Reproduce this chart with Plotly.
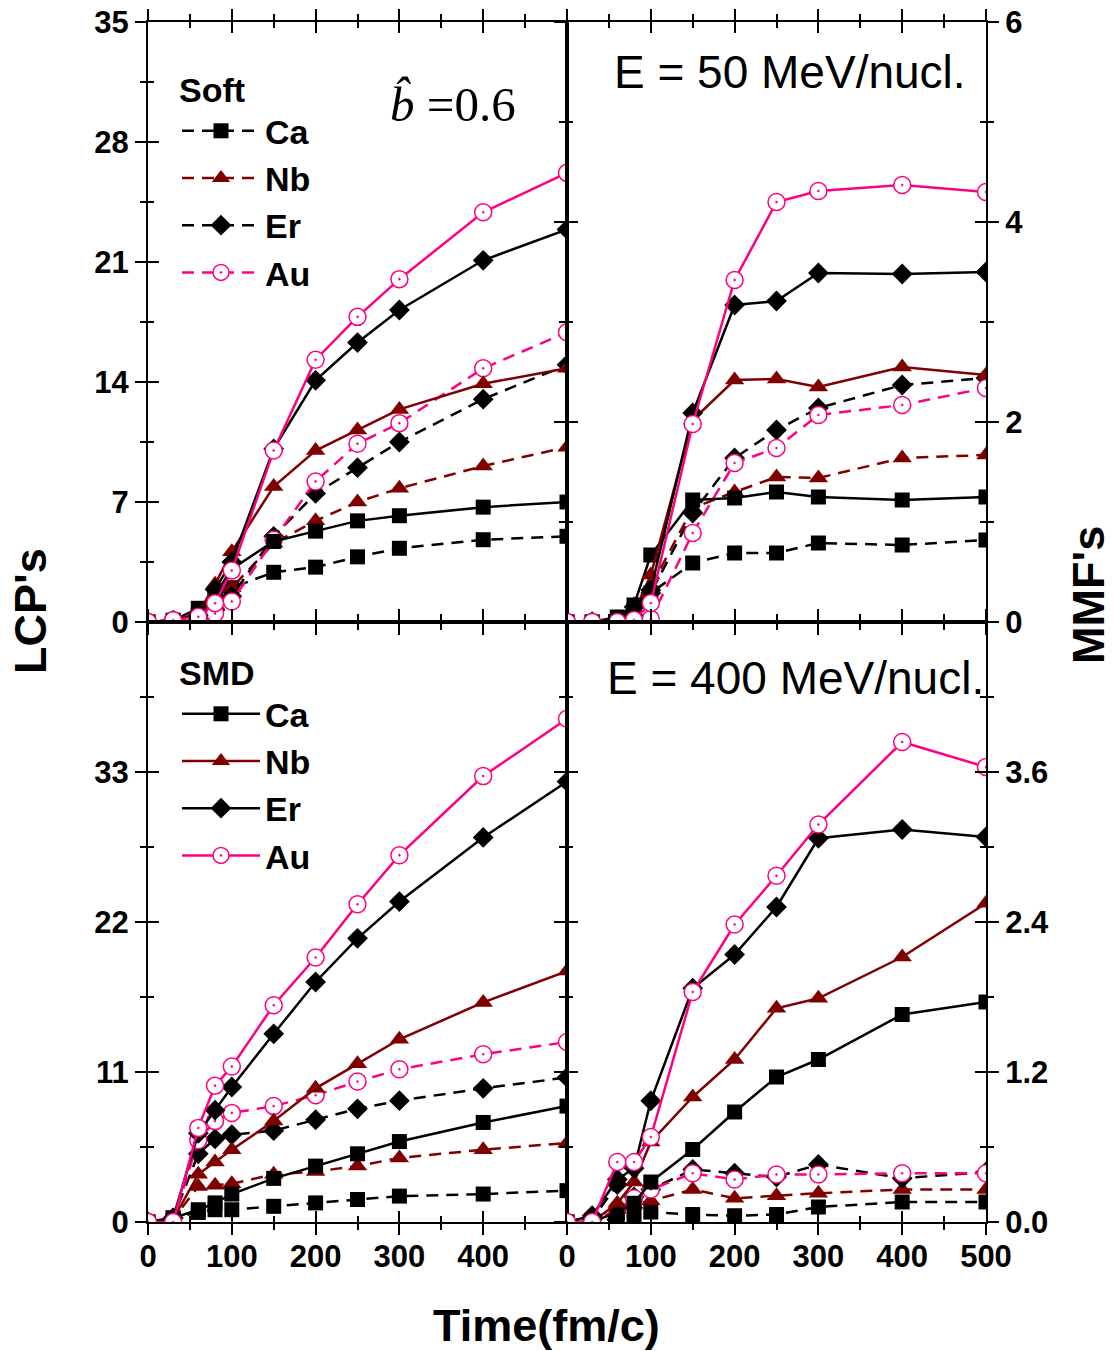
import plotly.graph_objects as go

# ---------------- data ----------------
time_fm_c = [0, 30, 60, 80, 100, 150, 200, 250, 300, 400, 500]
elements = ["Ca", "Nb", "Er", "Au"]

# LCP's, E = 50 MeV/nucl. (top-left)
lcp50_smd_ca = [0, 0.1, 0.8, 1.6, 3.1, 4.7, 5.3, 5.9, 6.2, 6.7, 7.0]
lcp50_smd_nb = [0, 0.1, 0.5, 2.2, 4.1, 7.9, 10.0, 11.2, 12.4, 13.9, 14.8]
lcp50_smd_er = [0, 0.1, 0.4, 1.9, 3.5, 10.1, 14.1, 16.3, 18.2, 21.1, 22.9]
lcp50_smd_au = [0, 0.1, 0.3, 1.1, 3.0, 10.0, 15.3, 17.8, 20.0, 23.9, 26.2]
lcp50_soft_ca = [0, 0.1, 0.4, 1.5, 2.0, 2.9, 3.2, 3.8, 4.3, 4.8, 5.0]
lcp50_soft_nb = [0, 0.1, 0.3, 1.0, 2.0, 4.6, 5.9, 7.0, 7.8, 9.1, 10.2]
lcp50_soft_er = [0, 0.1, 0.2, 0.7, 1.5, 5.0, 7.5, 9.0, 10.5, 13.0, 15.0]
lcp50_soft_au = [0, 0.1, 0.2, 0.5, 1.2, 4.8, 8.2, 10.4, 11.6, 14.8, 16.9]

# MMF's, E = 50 MeV/nucl. (top-right)
mmf50_smd_ca = [0, 0, 0.05, 0.17, 0.67, 1.22, 1.24, 1.30, 1.25, 1.22, 1.25]
mmf50_smd_nb = [0, 0, 0.03, 0.10, 0.47, 2.02, 2.42, 2.43, 2.35, 2.55, 2.47]
mmf50_smd_er = [0, 0, 0.02, 0.15, 0.32, 2.09, 3.17, 3.21, 3.49, 3.48, 3.50]
mmf50_smd_au = [0, 0, 0, 0.02, 0.19, 1.98, 3.42, 4.20, 4.31, 4.37, 4.30]
mmf50_soft_ca = [0, 0, 0.02, 0.12, 0.29, 0.59, 0.69, 0.69, 0.79, 0.77, 0.82]
mmf50_soft_nb = [0, 0, 0.02, 0.10, 0.35, 1.14, 1.30, 1.45, 1.44, 1.64, 1.67]
mmf50_soft_er = [0, 0, 0.01, 0.05, 0.29, 1.09, 1.64, 1.92, 2.14, 2.37, 2.44]
mmf50_soft_au = [0, 0, 0, 0, 0.03, 0.89, 1.59, 1.74, 2.07, 2.17, 2.34]

# LCP's, E = 400 MeV/nucl. (bottom-left)
lcp400_smd_ca = [0, 0.3, 0.9, 1.4, 2.05, 3.2, 4.1, 5.0, 5.9, 7.3, 8.5]
lcp400_smd_nb = [0, 0.2, 3.5, 4.4, 5.3, 7.4, 9.8, 11.6, 13.4, 16.1, 18.4]
lcp400_smd_er = [0, 0.3, 6.5, 8.2, 9.9, 13.8, 17.6, 20.8, 23.5, 28.2, 32.3]
lcp400_smd_au = [0, 0, 6.9, 10.0, 11.4, 15.9, 19.4, 23.3, 26.9, 32.7, 36.9]
lcp400_soft_ca = [0, 0.3, 0.7, 0.9, 0.9, 1.15, 1.4, 1.65, 1.9, 2.05, 2.3]
lcp400_soft_nb = [0, 0.2, 2.6, 2.7, 2.8, 3.5, 3.7, 4.1, 4.7, 5.3, 5.8]
lcp400_soft_er = [0, 0.3, 5.0, 6.1, 6.4, 6.7, 7.5, 8.3, 8.9, 9.8, 10.6]
lcp400_soft_au = [0, 0, 6.0, 7.4, 8.0, 8.5, 9.3, 10.3, 11.2, 12.3, 13.2]

# MMF's, E = 400 MeV/nucl. (bottom-right)
mmf400_smd_ca = [0, 0, 0.08, 0.15, 0.32, 0.58, 0.88, 1.16, 1.30, 1.66, 1.76]
mmf400_smd_nb = [0, 0, 0.15, 0.32, 0.64, 1.00, 1.30, 1.71, 1.79, 2.12, 2.55]
mmf400_smd_er = [0, 0.05, 0.34, 0.43, 0.97, 1.87, 2.14, 2.52, 3.07, 3.14, 3.08]
mmf400_smd_au = [0, 0, 0.48, 0.48, 0.68, 1.84, 2.38, 2.77, 3.18, 3.84, 3.64]
mmf400_soft_ca = [0, 0, 0.03, 0.05, 0.08, 0.06, 0.05, 0.06, 0.12, 0.16, 0.16]
mmf400_soft_nb = [0, 0, 0.10, 0.14, 0.17, 0.26, 0.19, 0.21, 0.23, 0.26, 0.26]
mmf400_soft_er = [0, 0.02, 0.30, 0.20, 0.26, 0.42, 0.39, 0.36, 0.46, 0.35, 0.40]
mmf400_soft_au = [0, 0, 0.10, 0.19, 0.26, 0.39, 0.34, 0.38, 0.38, 0.39, 0.39]

x_ticks = [0, 100, 200, 300, 400, 500]
lcp50_ticks = [0, 7, 14, 21, 28, 35]
lcp400_ticks = [0, 11, 22, 33, 44]
mmf50_ticks = [0, 2, 4, 6]
mmf400_ticks = [0, 1.2, 2.4, 3.6, 4.8]

# ---------------- style ----------------
W, H = 1113, 1351
FONT = "Liberation Sans, Arial, sans-serif"
PINK = "#FF0080"
DRED = "#800000"
colors = {"Ca": "black", "Nb": DRED, "Er": "black", "Au": PINK}
symbols = {"Ca": "square", "Nb": "triangle-up", "Er": "diamond", "Au": "circle-dot"}
sizes = {"Ca": 15, "Nb": 17, "Er": 16, "Au": 17}

panels = [
    ("", {"soft": [lcp50_soft_ca, lcp50_soft_nb, lcp50_soft_er, lcp50_soft_au],
          "smd": [lcp50_smd_ca, lcp50_smd_nb, lcp50_smd_er, lcp50_smd_au]}, "soft"),
    ("2", {"soft": [mmf50_soft_ca, mmf50_soft_nb, mmf50_soft_er, mmf50_soft_au],
           "smd": [mmf50_smd_ca, mmf50_smd_nb, mmf50_smd_er, mmf50_smd_au]}, None),
    ("3", {"soft": [lcp400_soft_ca, lcp400_soft_nb, lcp400_soft_er, lcp400_soft_au],
           "smd": [lcp400_smd_ca, lcp400_smd_nb, lcp400_smd_er, lcp400_smd_au]}, "smd"),
    ("4", {"soft": [mmf400_soft_ca, mmf400_soft_nb, mmf400_soft_er, mmf400_soft_au],
           "smd": [mmf400_smd_ca, mmf400_smd_nb, mmf400_smd_er, mmf400_smd_au]}, None),
]

fig = go.Figure()

for suffix, series, legmodel in panels:
    for model in ["soft", "smd"]:
        for el, vals in zip(elements, series[model]):
            if el == "Au":
                marker = dict(symbol=symbols[el], size=sizes[el], color="white",
                              line=dict(color=PINK, width=1.5))
            else:
                marker = dict(symbol=symbols[el], size=sizes[el], color=colors[el],
                              line=dict(width=0))
            show = legmodel == model
            fig.add_trace(go.Scatter(
                x=time_fm_c, y=vals, mode="lines+markers",
                name=el,
                line=dict(color=colors[el], width=2.5,
                          dash="12px,8px" if model == "soft" else "solid"),
                marker=marker,
                xaxis="x" + suffix, yaxis="y" + suffix,
                showlegend=show,
                legend="legend" if model == "soft" else "legend2",
                legendgroup=model + el,
                hoverinfo="skip",
            ))

# dummy traces for overlay axes (crossing ticks)
for i in range(5, 9):
    fig.add_trace(go.Scatter(x=[], y=[], xaxis="x%d" % i, yaxis="y%d" % i,
                             showlegend=False, hoverinfo="skip"))

xL = [148 / W, 567 / W]
xR = [567 / W, 986 / W]
yT = [1 - 622 / H, 1 - 22 / H]
yB = [1 - 1222 / H, 1 - 622 / H]

tickfont = dict(family=FONT, size=31, color="black", weight="bold")

def base_axis(**kw):
    d = dict(showgrid=False, zeroline=False, showline=True, linecolor="black",
             linewidth=2, ticks="outside", ticklen=11, tickwidth=2, tickcolor="black",
             tickfont=tickfont, fixedrange=True, automargin=False)
    d.update(kw)
    return d

def overlay_axis(base, **kw):
    d = dict(overlaying=base, showgrid=False, zeroline=False, showline=False,
             ticks="inside", ticklen=11, tickwidth=2, tickcolor="black",
             showticklabels=False, fixedrange=True, automargin=False)
    d.update(kw)
    return d

xminor_out = dict(dtick=50, tick0=0, ticks="outside", ticklen=6, tickwidth=2, tickcolor="black")
xminor_in = dict(dtick=50, tick0=0, ticks="inside", ticklen=6, tickwidth=2, tickcolor="black")

def yminor(dt, side):
    return dict(dtick=dt, tick0=0, ticks=side, ticklen=6, tickwidth=2, tickcolor="black")

legend_font = dict(family=FONT, size=34, color="black", weight="bold")

layout = dict(
    template="none",
    width=W, height=H, autosize=False,
    margin=dict(l=0, r=0, t=0, b=0, pad=0, autoexpand=False),
    paper_bgcolor="white", plot_bgcolor="rgba(0,0,0,0)",
    font=dict(family=FONT, color="black"),
    xaxis=base_axis(domain=xL, anchor="y", range=[0, 500], tickvals=x_ticks,
                    showticklabels=False, mirror="ticks", minor=xminor_out),
    yaxis=base_axis(domain=yT, anchor="x", range=[0, 35], tickvals=lcp50_ticks,
                    ticktext=[str(v) for v in lcp50_ticks], mirror=True,
                    minor=yminor(3.5, "outside")),
    xaxis2=base_axis(domain=xR, anchor="y2", range=[0, 500], tickvals=x_ticks,
                     showticklabels=False, mirror="ticks", minor=xminor_out),
    yaxis2=base_axis(domain=yT, anchor="x2", side="right", range=[0, 6],
                     tickvals=mmf50_ticks, ticktext=[str(v) for v in mmf50_ticks],
                     mirror="ticks", minor=yminor(1, "outside")),
    xaxis3=base_axis(domain=xL, anchor="y3", range=[0, 500], tickvals=x_ticks,
                     ticktext=[str(v) for v in x_ticks[:-1]] + [""],
                     mirror="ticks", minor=xminor_out, ticklabelstandoff=-5),
    yaxis3=base_axis(domain=yB, anchor="x3", range=[0, 44], tickvals=lcp400_ticks,
                     ticktext=[str(v) for v in lcp400_ticks[:-1]] + [""], mirror=True,
                     minor=yminor(5.5, "outside")),
    xaxis4=base_axis(domain=xR, anchor="y4", range=[0, 500], tickvals=x_ticks,
                     ticktext=[str(v) for v in x_ticks], mirror="ticks", minor=xminor_out,
                     ticklabelstandoff=-5),
    yaxis4=base_axis(domain=yB, anchor="x4", side="right", range=[0, 4.8],
                     tickvals=mmf400_ticks,
                     ticktext=["%.1f" % v for v in mmf400_ticks[:-1]] + [""],
                     mirror="ticks", minor=yminor(0.6, "outside")),
    xaxis5=overlay_axis("x", anchor="y5", range=[0, 500], tickvals=x_ticks,
                        mirror="ticks", minor=xminor_in),
    yaxis5=overlay_axis("y", anchor="x5", range=[0, 35], tickvals=lcp50_ticks,
                        minor=yminor(3.5, "inside")),
    xaxis6=overlay_axis("x2", anchor="y6", range=[0, 500], tickvals=x_ticks,
                        mirror="ticks", minor=xminor_in),
    yaxis6=overlay_axis("y2", anchor="x6", side="right", range=[0, 6],
                        tickvals=mmf50_ticks, mirror="ticks", minor=yminor(1, "inside")),
    xaxis7=overlay_axis("x3", anchor="y7", range=[0, 500], tickvals=x_ticks,
                        mirror="ticks", minor=xminor_in),
    yaxis7=overlay_axis("y3", anchor="x7", range=[0, 44], tickvals=lcp400_ticks,
                        minor=yminor(5.5, "inside")),
    xaxis8=overlay_axis("x4", anchor="y8", range=[0, 500], tickvals=x_ticks,
                        mirror="ticks", minor=xminor_in),
    yaxis8=overlay_axis("y4", anchor="x8", side="right", range=[0, 4.8],
                        tickvals=mmf400_ticks, mirror="ticks", minor=yminor(0.6, "inside")),
    legend=dict(
        x=177 / W, y=1 - 58 / H, xanchor="left", yanchor="top",
        bgcolor="rgba(0,0,0,0)", borderwidth=0,
        title=dict(text="Soft", font=legend_font),
        font=legend_font,
        traceorder="grouped", tracegroupgap=0, itemwidth=78,
    ),
    legend2=dict(
        x=177 / W, y=1 - 641 / H, xanchor="left", yanchor="top",
        bgcolor="rgba(0,0,0,0)", borderwidth=0,
        title=dict(text="SMD", font=legend_font),
        font=legend_font,
        traceorder="grouped", tracegroupgap=0, itemwidth=78,
    ),
    showlegend=True,
)
fig.update_layout(**layout)

ann_common = dict(xref="paper", yref="paper", showarrow=False)
fig.add_annotation(text="E = 50 MeV/nucl.", x=968 / W, y=1 - 72 / H, xanchor="right",
                   yanchor="middle", font=dict(family=FONT, size=46, color="black"), **ann_common)
fig.add_annotation(text="E = 400 MeV/nucl.", x=986 / W, y=1 - 678 / H, xanchor="right",
                   yanchor="middle", font=dict(family=FONT, size=46, color="black"), **ann_common)
fig.add_annotation(text="<i>b\u0302</i> =0.6", x=453 / W, y=1 - 104 / H, xanchor="center",
                   yanchor="middle",
                   font=dict(family="Liberation Serif, Times New Roman, serif", size=49, color="black"),
                   **ann_common)
fig.add_annotation(text="LCP's", x=30 / W, y=1 - 611 / H, textangle=-90, xanchor="center",
                   yanchor="middle", font=dict(family=FONT, size=45, color="black", weight="bold"),
                   **ann_common)
fig.add_annotation(text="MMF's", x=1088 / W, y=1 - 595 / H, textangle=-90, xanchor="center",
                   yanchor="middle", font=dict(family=FONT, size=45, color="black", weight="bold"),
                   **ann_common)
fig.add_annotation(text="Time(fm/c)", x=546 / W, y=1 - 1325 / H, xanchor="center",
                   yanchor="middle", font=dict(family=FONT, size=45, color="black", weight="bold"),
                   **ann_common)

fig.write_html(
    "out.html",
    config={"responsive": False, "displayModeBar": False},
    post_script="document.body.style.margin='0';document.body.style.padding='0';"
                "document.documentElement.style.overflow='hidden';",
)
